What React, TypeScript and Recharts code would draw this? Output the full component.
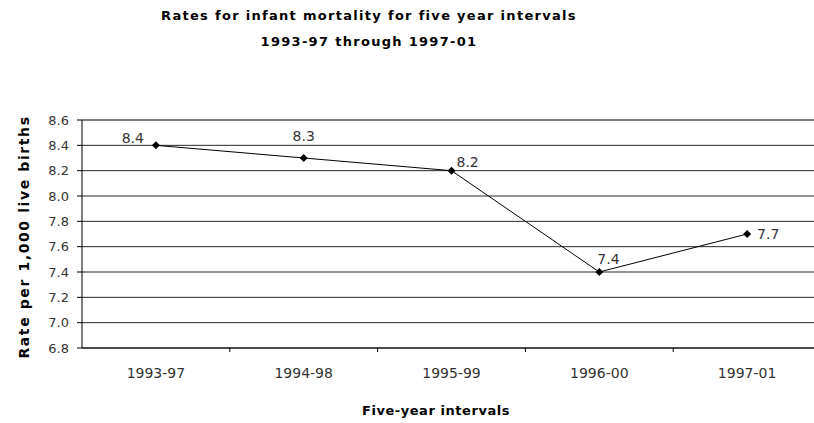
import { CartesianGrid, LabelList, Line, LineChart, ReferenceLine, XAxis, YAxis } from "recharts";

const intervals = ["1993-97", "1994-98", "1995-99", "1996-00", "1997-01"];
const rates = [8.4, 8.3, 8.2, 7.4, 7.7];
const yTicks = [6.8, 7.0, 7.2, 7.4, 7.6, 7.8, 8.0, 8.2, 8.4, 8.6];

// where each value label sits relative to its point
const labelOffsets = [
  { dx: -12, dy: -6, anchor: "end" },
  { dx: 0, dy: -21, anchor: "middle" },
  { dx: 5, dy: -8, anchor: "start" },
  { dx: -2, dy: -12, anchor: "start" },
  { dx: 10, dy: 1, anchor: "start" }
];

const data = intervals.map((label, i) => ({ label, rate: rates[i] }));

const BAND = 147.8;
const textFont = "'DejaVu Sans', Verdana, sans-serif";

function Diamond(props: any) {
  const { cx, cy } = props;
  if (cx == null || cy == null) return null;
  return <polygon points={`${cx},${cy - 4} ${cx + 4},${cy} ${cx},${cy + 4} ${cx - 4},${cy}`} fill="#000" />;
}

function CategoryTick(props: any) {
  const { x, y, payload, index } = props;
  return (
    <g>
      {index < intervals.length - 1 && (
        <line x1={x + BAND / 2} x2={x + BAND / 2} y1={y - 20} y2={y - 16} stroke="#000" />
      )}
      <text x={x} y={y} dy="0.71em" textAnchor="middle" fill="#333" fontSize={14} fontFamily={textFont}>
        {payload.value}
      </text>
    </g>
  );
}

function ValueLabel(props: any) {
  const { x, y, value, index } = props;
  const o = labelOffsets[index];
  return (
    <text x={x + o.dx} y={y + o.dy} dominantBaseline="middle" textAnchor={o.anchor} fill="#333" fontSize={14} fontFamily={textFont}>
      {Number(value).toFixed(1)}
    </text>
  );
}

export default function App() {
  return (
    <div style={{ position: "absolute", left: 0, top: 0, width: 814, height: 423, overflow: "hidden", background: "#fff" }}>
      <div
        style={{
          position: "absolute",
          left: 0,
          width: 738,
          top: 3,
          textAlign: "center",
          fontFamily: textFont,
          fontWeight: "bold",
          fontSize: 13,
          lineHeight: "26px",
          color: "#000",
          letterSpacing: 1.3
        }}
      >
        <div>Rates for infant mortality for five year intervals</div>
        <div>1993-97 through 1997-01</div>
      </div>
      <div
        style={{
          position: "absolute",
          left: 24,
          top: 237,
          transform: "translate(-50%, -50%) rotate(-90deg)",
          whiteSpace: "nowrap",
          fontFamily: textFont,
          fontWeight: "bold",
          fontSize: 14,
          letterSpacing: 1.6,
          color: "#000"
        }}
      >
        Rate per 1,000 live births
      </div>
      <div
        style={{
          position: "absolute",
          left: 436,
          top: 410,
          transform: "translate(-50%, -50%)",
          whiteSpace: "nowrap",
          fontFamily: textFont,
          fontWeight: "bold",
          fontSize: 13,
          letterSpacing: 0.55,
          color: "#000"
        }}
      >
        Five-year intervals
      </div>
      <LineChart width={830} height={423} data={data} margin={{ top: 120, right: 9, bottom: 45, left: 8 }}>
        <CartesianGrid vertical={false} stroke="#000" strokeOpacity={0.85} />
        <XAxis
          dataKey="label"
          height={30}
          padding={{ left: BAND / 2, right: BAND / 2 }}
          axisLine={{ stroke: "#000" }}
          tickLine={false}
          tickMargin={14}
          tick={<CategoryTick />}
          interval={0}
        />
        <YAxis
          domain={[6.8, 8.6]}
          ticks={yTicks}
          width={74}
          axisLine={{ stroke: "#000" }}
          tickLine={{ stroke: "#000" }}
          tickSize={5}
          tickMargin={8}
          tickFormatter={(v: number) => v.toFixed(1)}
          tick={{ fill: "#333", fontSize: 13, fontFamily: textFont }}
        />
        <ReferenceLine y={8.6} stroke="#808080" strokeWidth={2} />
        <Line
          type="linear"
          dataKey="rate"
          stroke="#000"
          strokeWidth={1}
          dot={<Diamond />}
          activeDot={false}
          isAnimationActive={false}
        >
          <LabelList dataKey="rate" content={<ValueLabel />} />
        </Line>
      </LineChart>
    </div>
  );
}
